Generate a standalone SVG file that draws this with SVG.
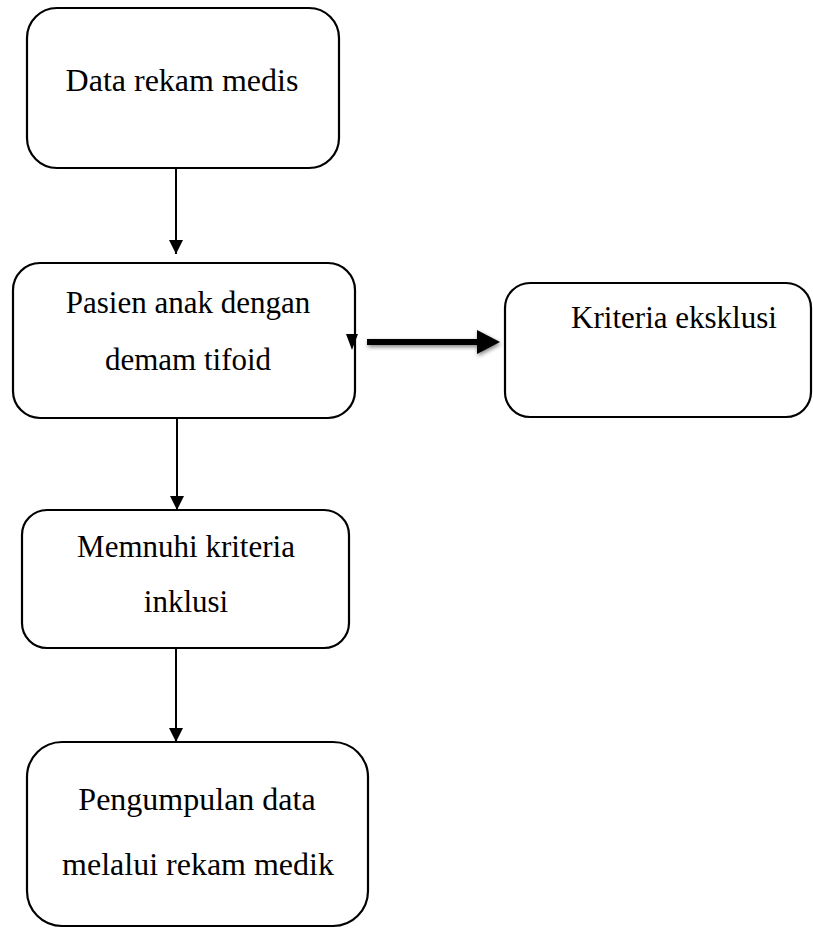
<svg xmlns="http://www.w3.org/2000/svg" width="813" height="928" viewBox="0 0 813 928">
<defs>
<style>
.box{fill:#fff;stroke:#000;stroke-width:2.2}
.t{font-family:"Liberation Serif","Times New Roman",serif;font-size:31px;fill:#000;text-anchor:middle}
.big{font-size:32px}
.c{stroke:#000;stroke-width:2;fill:none}
</style>
<marker id="ah" viewBox="0 0 10 10" refX="10" refY="5" markerWidth="7.5" markerHeight="7" markerUnits="strokeWidth" orient="auto">
<path d="M0,0 L10,5 L0,10 Z" fill="#000"/>
</marker>
<filter id="sh" x="-20%" y="-100%" width="140%" height="300%">
<feGaussianBlur in="SourceAlpha" stdDeviation="2"/>
<feOffset dx="1" dy="2" result="b"/>
<feComponentTransfer><feFuncA type="linear" slope="0.5"/></feComponentTransfer>
<feMerge><feMergeNode/><feMergeNode in="SourceGraphic"/></feMerge>
</filter>
</defs>
<rect width="813" height="928" fill="#fff"/>
<g id="n1">
<rect class="box" x="27" y="8" width="312" height="160" rx="30"/>
<text class="t big" x="182" y="91">Data rekam medis</text>
</g>
<g id="n2">
<rect class="box" x="13" y="263" width="342" height="155" rx="27"/>
<text class="t" x="188" y="313">Pasien anak dengan</text>
<text class="t" x="188" y="370">demam tifoid</text>
<path d="M346,334 L358,334 L352,350 Z" fill="#000"/>
</g>
<g id="n3">
<rect class="box" x="505" y="283" width="306" height="134" rx="25"/>
<text class="t" x="674" y="328">Kriteria eksklusi</text>
</g>
<g id="n4">
<rect class="box" x="22" y="510" width="327" height="138" rx="25"/>
<text class="t" x="186" y="557">Memnuhi kriteria</text>
<text class="t" x="186" y="612">inklusi</text>
</g>
<g id="n5">
<rect class="box" x="27" y="742" width="341" height="184" rx="35"/>
<text class="t big" x="197" y="810">Pengumpulan data</text>
<text class="t big" x="198" y="875">melalui rekam medik</text>
</g>
<g id="connectors">
<line class="c" x1="176" y1="168" x2="176" y2="254" marker-end="url(#ah)"/>
<line class="c" x1="177" y1="418" x2="177" y2="510" marker-end="url(#ah)"/>
<line class="c" x1="176" y1="648" x2="176" y2="742" marker-end="url(#ah)"/>
<g filter="url(#sh)">
<rect x="367" y="339" width="113" height="6" fill="#000"/>
<path d="M477,330 L500,342 L477,354 Z" fill="#000"/>
</g>
</g>
</svg>
